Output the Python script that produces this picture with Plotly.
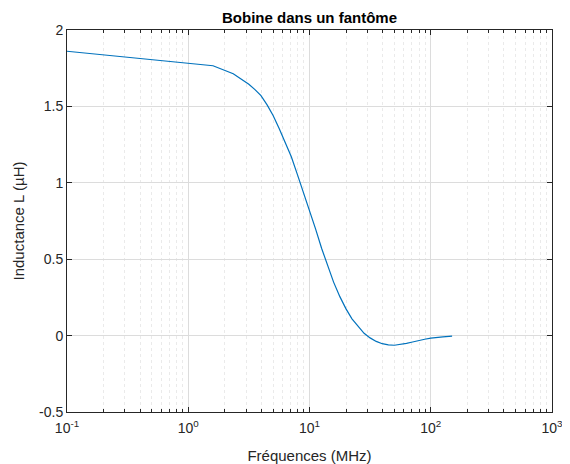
import plotly.graph_objects as go

# Data
freq_mhz = [0.1, 0.85, 1.6, 2.35, 2.82, 3.16, 3.55, 3.98, 4.47, 5.01, 5.62, 6.31, 7.08,
            7.94, 8.91, 10.0, 11.2, 12.6, 14.1, 15.8, 17.8, 20.0, 22.4, 25.1, 28.2,
            31.6, 35.5, 39.8, 44.7, 50.1, 56.2, 63.1, 70.8, 79.4, 89.1, 100, 112, 126, 150]
inductance_uh = [1.861, 1.791, 1.766, 1.714, 1.675, 1.645, 1.61, 1.57, 1.51, 1.44, 1.355,
                 1.265, 1.17, 1.055, 0.94, 0.82, 0.70, 0.57, 0.455, 0.35, 0.255, 0.175,
                 0.11, 0.06, 0.015, -0.015, -0.038, -0.053, -0.061, -0.063, -0.059,
                 -0.051, -0.042, -0.032, -0.024, -0.017, -0.012, -0.008, -0.004]

x_tickvals = [0.1, 1, 10, 100, 1000]
x_ticktext = ["10<sup>-1</sup>", "10<sup>0</sup>", "10<sup>1</sup>", "10<sup>2</sup>", "10<sup>3</sup>"]
y_tickvals = [-0.5, 0, 0.5, 1, 1.5, 2]
y_ticktext = ["-0.5", "0", "0.5", "1", "1.5", "2"]

minor_vals = [m * 10 ** e for e in range(-1, 3) for m in range(2, 10)]

axis_col = "#262626"
font_fam = "Liberation Sans, Arial, sans-serif"

fig = go.Figure()
fig.add_trace(go.Scatter(x=freq_mhz, y=inductance_uh, mode="lines", line_shape="linear",
                         line=dict(color="#0072BD", width=1.2), showlegend=False))

# page body has an 8px margin: figure is 562x456 so it fills the 570x464 window
fig.update_layout(
    width=562, height=456,
    margin=dict(l=59, r=18, t=22, b=52),
    paper_bgcolor="white", plot_bgcolor="white",
    font=dict(family=font_fam, size=14, color=axis_col),
    annotations=[dict(text="<b>Bobine dans un fantôme</b>", xref="paper", yref="paper",
                      x=0.5, y=1, xanchor="center", yanchor="bottom", yshift=2,
                      showarrow=False, font=dict(size=15, color="black", family=font_fam))],
)

fig.update_xaxes(
    type="log", range=[-1, 3], automargin=False,
    tickvals=x_tickvals, ticktext=x_ticktext,
    ticks="inside", ticklen=5, tickcolor=axis_col, tickwidth=1,
    showline=True, linecolor=axis_col, linewidth=1, mirror="ticks",
    showgrid=True, gridcolor="#dcdcdc", gridwidth=1,
    zeroline=False, ticklabelstandoff=3,
    tickfont=dict(size=14, color=axis_col),
    minor=dict(tickvals=minor_vals, ticks="inside", ticklen=3, tickcolor=axis_col,
               showgrid=True, gridcolor="#eaeaea", griddash="dot", gridwidth=1),
    title=dict(text="Fréquences (MHz)", font=dict(size=15, color=axis_col), standoff=20),
)
fig.update_yaxes(
    range=[-0.5, 2], automargin=False,
    tickvals=y_tickvals, ticktext=y_ticktext,
    ticks="inside", ticklen=5, tickcolor=axis_col, tickwidth=1,
    showline=True, linecolor=axis_col, linewidth=1, mirror="ticks",
    showgrid=True, gridcolor="#dcdcdc", gridwidth=1,
    zeroline=False,
    tickfont=dict(size=14, color=axis_col),
    title=dict(text="Inductance L (µH)", font=dict(size=15, color=axis_col), standoff=10),
)

fig.write_html("out.html")
